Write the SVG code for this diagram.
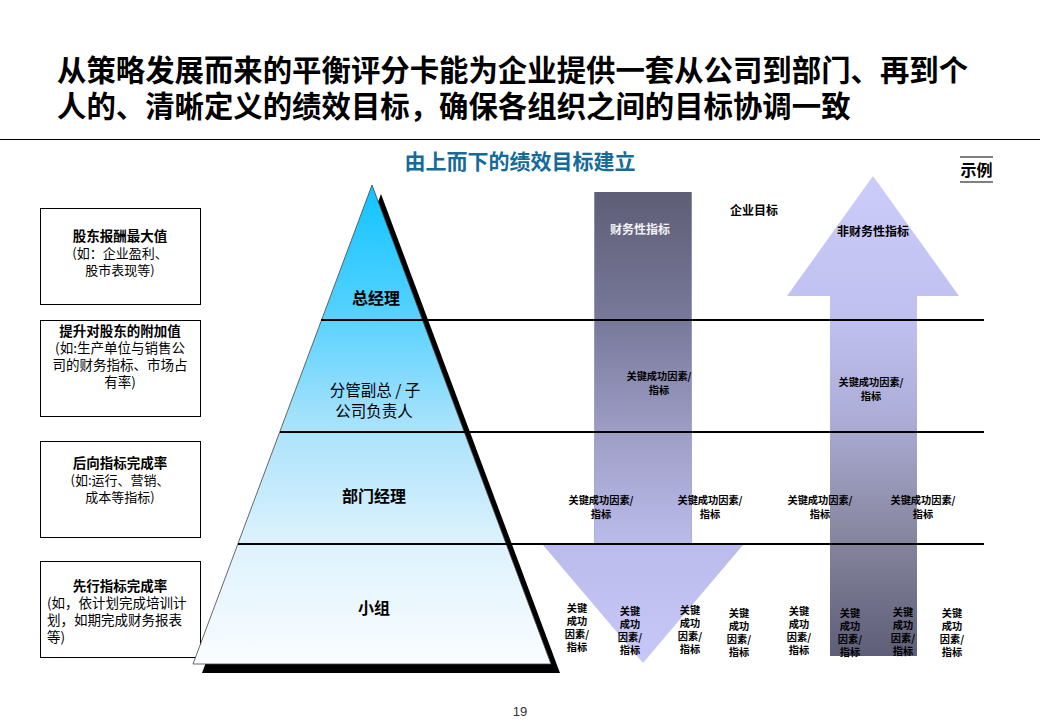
<svg xmlns="http://www.w3.org/2000/svg" width="1040" height="720" viewBox="0 0 1040 720">
<style>
text{font-family:"Noto Sans CJK SC","Noto Sans",sans-serif;dominant-baseline:central;}
.title{font-size:29.4px;font-weight:bold;fill:#000;}
.sub{font-size:21px;font-weight:bold;fill:#156A9A;text-anchor:middle;}
.bt{font-size:13.5px;font-weight:bold;fill:#000;text-anchor:middle;}
.bb{font-size:13px;fill:#000;text-anchor:middle;}
.bb14{font-size:13.5px;fill:#000;text-anchor:middle;}
.bl{font-size:13.5px;fill:#000;}
.lvl{font-size:16px;font-weight:bold;fill:#000;text-anchor:middle;}
.lvln{font-size:15.5px;fill:#000;text-anchor:middle;}
.am{font-size:12px;font-weight:bold;text-anchor:middle;}
.ksf{font-size:10.2px;font-weight:bold;fill:#000;text-anchor:middle;}
.box{fill:#fff;stroke:#000;stroke-width:1;}
.lv{stroke:#000;stroke-width:2;}
</style>
<defs>
<linearGradient id="pyrGrad" x1="0" y1="185" x2="0" y2="664" gradientUnits="userSpaceOnUse">
<stop offset="0" stop-color="#10C4FF"/>
<stop offset="0.25" stop-color="#50D0FF"/>
<stop offset="0.5" stop-color="#A8E2FB"/>
<stop offset="0.75" stop-color="#DDF2FD"/>
<stop offset="1" stop-color="#FAFDFF"/>
</linearGradient>
<linearGradient id="downGrad" x1="0" y1="192" x2="0" y2="663" gradientUnits="userSpaceOnUse">
<stop offset="0" stop-color="#5E5E76"/>
<stop offset="0.27" stop-color="#78789A"/>
<stop offset="0.5" stop-color="#9C9CC4"/>
<stop offset="0.75" stop-color="#BCBCEC"/>
<stop offset="1" stop-color="#C8C8F8"/>
</linearGradient>
<linearGradient id="upGrad" x1="0" y1="176" x2="0" y2="656" gradientUnits="userSpaceOnUse">
<stop offset="0" stop-color="#CCCCFA"/>
<stop offset="0.3" stop-color="#C0C0F0"/>
<stop offset="0.5" stop-color="#ADADD8"/>
<stop offset="0.75" stop-color="#86869F"/>
<stop offset="1" stop-color="#5E5E78"/>
</linearGradient>
</defs>
<rect width="1040" height="720" fill="#fff"/>

<g id="title">
<text class="title" x="57" y="68">从策略发展而来的平衡评分卡能为企业提供一套从公司到部门、再到个</text>
<text class="title" x="57" y="104">人的、清晰定义的绩效目标，确保各组织之间的目标协调一致</text>
<line x1="0" y1="139.5" x2="1040" y2="139.5" stroke="#000" stroke-width="1"/>
</g>

<g id="subtitle"><text class="sub" x="520" y="160">由上而下的绩效目标建立</text></g>

<g id="example-tag">
<line x1="960" y1="157" x2="993" y2="157" stroke="#000" stroke-width="1.2"/>
<text x="976.5" y="169" style="font-size:16px;font-weight:bold;text-anchor:middle;">示例</text>
<line x1="960" y1="182" x2="993" y2="182" stroke="#000" stroke-width="1.2"/>
</g>

<g id="box-shareholder">
<rect class="box" x="40.5" y="208.5" width="160" height="96"/>
<text class="bt" x="120" y="235">股东报酬最大值</text>
<text class="bb" x="120" y="252">(如：企业盈利、</text>
<text class="bb" x="120" y="269">股市表现等)</text>
</g>
<g id="box-addvalue">
<rect class="box" x="40.5" y="320.5" width="160" height="96"/>
<text class="bt" x="120" y="330">提升对股东的附加值</text>
<text class="bb14" x="120" y="347">(如:生产单位与销售公</text>
<text class="bb14" x="120" y="364">司的财务指标、市场占</text>
<text class="bb14" x="120" y="381">有率)</text>
</g>
<g id="box-lagging">
<rect class="box" x="40.5" y="441.5" width="160" height="96"/>
<text class="bt" x="120" y="462">后向指标完成率</text>
<text class="bb" x="120" y="479">(如:运行、营销、</text>
<text class="bb" x="120" y="496">成本等指标)</text>
</g>
<g id="box-leading">
<rect class="box" x="40.5" y="561.5" width="160" height="96"/>
<text class="bt" x="120" y="585">先行指标完成率</text>
<text class="bl" x="47" y="602">(如，依计划完成培训计</text>
<text class="bl" x="47" y="619">划，如期完成财务报表</text>
<text class="bl" x="47" y="636">等)</text>
</g>

<g id="pyramid">
<path d="M381,194 L560,673 L202,673 Z" fill="#000"/>
<path d="M372,185 L551,664 L193,664 Z" fill="url(#pyrGrad)" stroke="#444" stroke-width="0.8"/>
</g>

<g id="arrow-financial">
<path d="M594,192 L692,192 L692,545 L743,545 L643,663 L543,545 L594,545 Z" fill="url(#downGrad)"/>
<line x1="594.5" y1="192" x2="594.5" y2="545" stroke="#A8A8D8" stroke-width="1" opacity="0.6"/>
<line x1="691.5" y1="192" x2="691.5" y2="545" stroke="#A8A8D8" stroke-width="1" opacity="0.6"/>
<text class="am" x="640" y="228" fill="#F2F2F2">财务性指标</text>
</g>

<g id="arrow-nonfinancial">
<path d="M873,176 L959,296 L917,296 L917,656 L830,656 L830,296 L787,296 Z" fill="url(#upGrad)"/>
<text class="am" x="873" y="230" fill="#000">非财务性指标</text>
</g>

<g id="corporate-goal"><text class="am" x="754" y="209" fill="#000">企业目标</text></g>

<g id="connectors">
<line class="lv" x1="321" y1="320" x2="984" y2="320"/>
<line class="lv" x1="280" y1="432" x2="984" y2="432"/>
<line class="lv" x1="238" y1="544" x2="984" y2="544"/>
</g>

<g id="level-gm"><text class="lvl" x="376" y="297">总经理</text></g>
<g id="level-vp"><text class="lvln" x="375" y="389">分管副总 / 子</text><text class="lvln" x="374" y="410">公司负责人</text></g>
<g id="level-dept"><text class="lvl" x="374" y="495">部门经理</text></g>
<g id="level-team"><text class="lvl" x="374" y="607">小组</text></g>

<g id="ksf-vp">
<text class="ksf" x="659" y="375">关键成功因素/</text><text class="ksf" x="659" y="389">指标</text>
<text class="ksf" x="871" y="381">关键成功因素/</text><text class="ksf" x="871" y="395">指标</text>
</g>
<g id="ksf-dept">
<text class="ksf" x="601" y="499">关键成功因素/</text><text class="ksf" x="601" y="513">指标</text>
<text class="ksf" x="710" y="499">关键成功因素/</text><text class="ksf" x="710" y="513">指标</text>
<text class="ksf" x="820" y="499">关键成功因素/</text><text class="ksf" x="820" y="513">指标</text>
<text class="ksf" x="923" y="499">关键成功因素/</text><text class="ksf" x="923" y="513">指标</text>
</g>
<g id="ksf-team">
<text class="ksf" x="577" y="607">关键</text><text class="ksf" x="577" y="620">成功</text><text class="ksf" x="577" y="633">因素/</text><text class="ksf" x="577" y="646">指标</text>
<text class="ksf" x="630" y="610">关键</text><text class="ksf" x="630" y="623">成功</text><text class="ksf" x="630" y="636">因素/</text><text class="ksf" x="630" y="649">指标</text>
<text class="ksf" x="690" y="609">关键</text><text class="ksf" x="690" y="622">成功</text><text class="ksf" x="690" y="635">因素/</text><text class="ksf" x="690" y="648">指标</text>
<text class="ksf" x="739" y="612">关键</text><text class="ksf" x="739" y="625">成功</text><text class="ksf" x="739" y="638">因素/</text><text class="ksf" x="739" y="651">指标</text>
<text class="ksf" x="799" y="610">关键</text><text class="ksf" x="799" y="623">成功</text><text class="ksf" x="799" y="636">因素/</text><text class="ksf" x="799" y="649">指标</text>
<text class="ksf" x="850" y="612">关键</text><text class="ksf" x="850" y="625">成功</text><text class="ksf" x="850" y="638">因素/</text><text class="ksf" x="850" y="651">指标</text>
<text class="ksf" x="903" y="611">关键</text><text class="ksf" x="903" y="624">成功</text><text class="ksf" x="903" y="637">因素/</text><text class="ksf" x="903" y="650">指标</text>
<text class="ksf" x="952" y="612">关键</text><text class="ksf" x="952" y="625">成功</text><text class="ksf" x="952" y="638">因素/</text><text class="ksf" x="952" y="651">指标</text>
</g>

<g id="page-number"><text x="520" y="711" style="font-family:'Liberation Sans',sans-serif;font-size:13px;fill:#333;text-anchor:middle;">19</text></g>
</svg>
